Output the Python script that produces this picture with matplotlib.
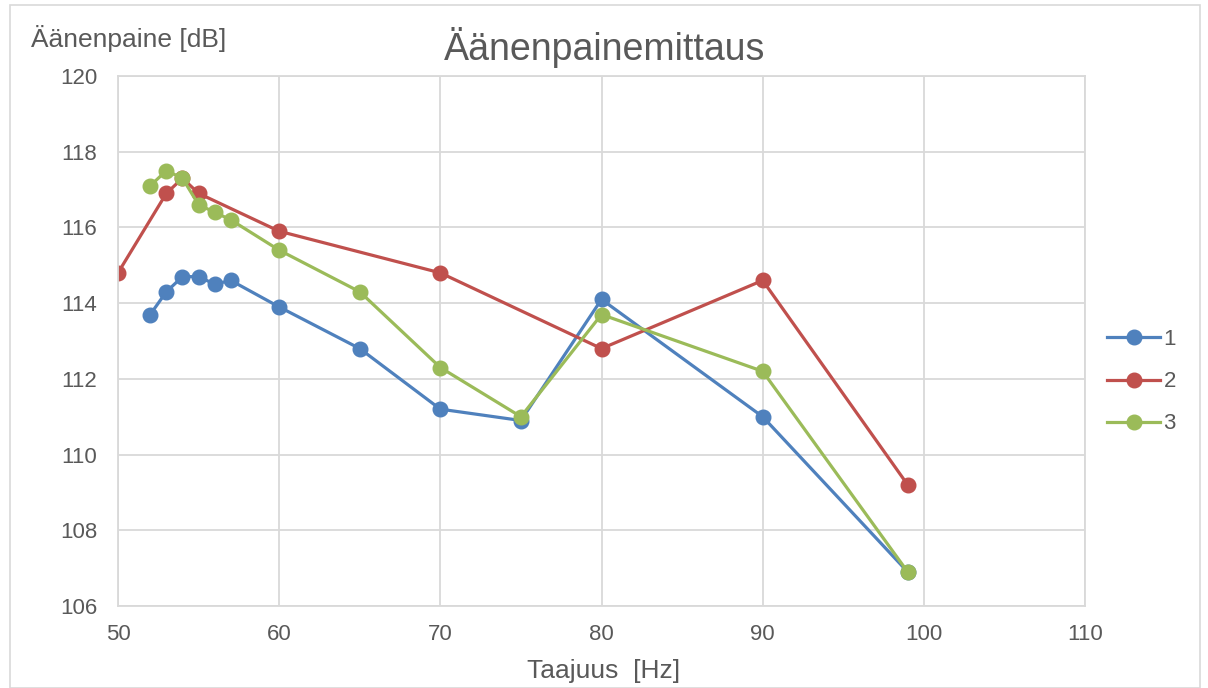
import numpy as np
import matplotlib.pyplot as plt
from matplotlib.patches import Rectangle

plt.rcParams['font.family'] = ['Liberation Sans', 'DejaVu Sans']

# data
x1 = [52, 53, 54, 55, 56, 57, 60, 65, 70, 75, 80, 90, 99]
y1 = [113.7, 114.3, 114.7, 114.7, 114.5, 114.6, 113.9, 112.8, 111.2, 110.9, 114.1, 111.0, 106.9]

x2 = [50, 53, 54, 55, 60, 70, 80, 90, 99]
y2 = [114.8, 116.9, 117.3, 116.9, 115.9, 114.8, 112.8, 114.6, 109.2]

x3 = [52, 53, 54, 55, 56, 57, 60, 65, 70, 75, 80, 90, 99]
y3 = [117.1, 117.5, 117.3, 116.6, 116.4, 116.2, 115.4, 114.3, 112.3, 111.0, 113.7, 112.2, 106.9]

names = ['1', '2', '3']
colors = ['#4F81BD', '#C0504D', '#9BBB59']
txt = '#595959'
grid = '#d9d9d9'

fig = plt.figure(figsize=(12.08, 6.88), dpi=100)
ax = fig.add_axes([118 / 1208, 1 - 606 / 688, (1085 - 118) / 1208, (606 - 76) / 688])

for xs, ys, name, c in zip([x1, x2, x3], [y1, y2, y3], names, colors):
    ax.plot(xs, ys, '-o', color=c, lw=2.3, markersize=10.5, label=name)

ax.set_xlim(50, 110)
ax.set_ylim(106, 120)
ax.set_xticks(np.arange(50, 111, 10))
ax.set_yticks(np.arange(106, 121, 2))
ax.grid(color=grid, lw=1.3)
ax.set_axisbelow(True)
for s in ax.spines.values():
    s.set_color(grid)
    s.set_linewidth(1.3)
ax.tick_params(length=0, labelsize=16, labelcolor=txt)
ax.tick_params(axis='x', pad=13)
ax.tick_params(axis='y', pad=15)

fig.text(605 / 1208, 1 - 48 / 688, 'Äänenpainemittaus', ha='center', va='center', fontsize=27, color=txt)
fig.text(31 / 1208, 1 - 38 / 688, 'Äänenpaine [dB]', ha='left', va='center', fontsize=19, color=txt)
fig.text(604 / 1208, 1 - 671 / 688, 'Taajuus  [Hz]', ha='center', va='center', fontsize=19, color=txt)

leg = ax.legend(loc='center left', bbox_to_anchor=(1.002, 0.423), frameon=False,
                fontsize=16, labelcolor=txt, handlelength=2.4, labelspacing=0.95,
                handletextpad=0.15)

fig.patches.append(Rectangle((10 / 1208, 0), 1190 / 1208, 1 - 5 / 688, transform=fig.transFigure,
                             fill=False, edgecolor=grid, lw=1.2))

plt.savefig('out.png')
